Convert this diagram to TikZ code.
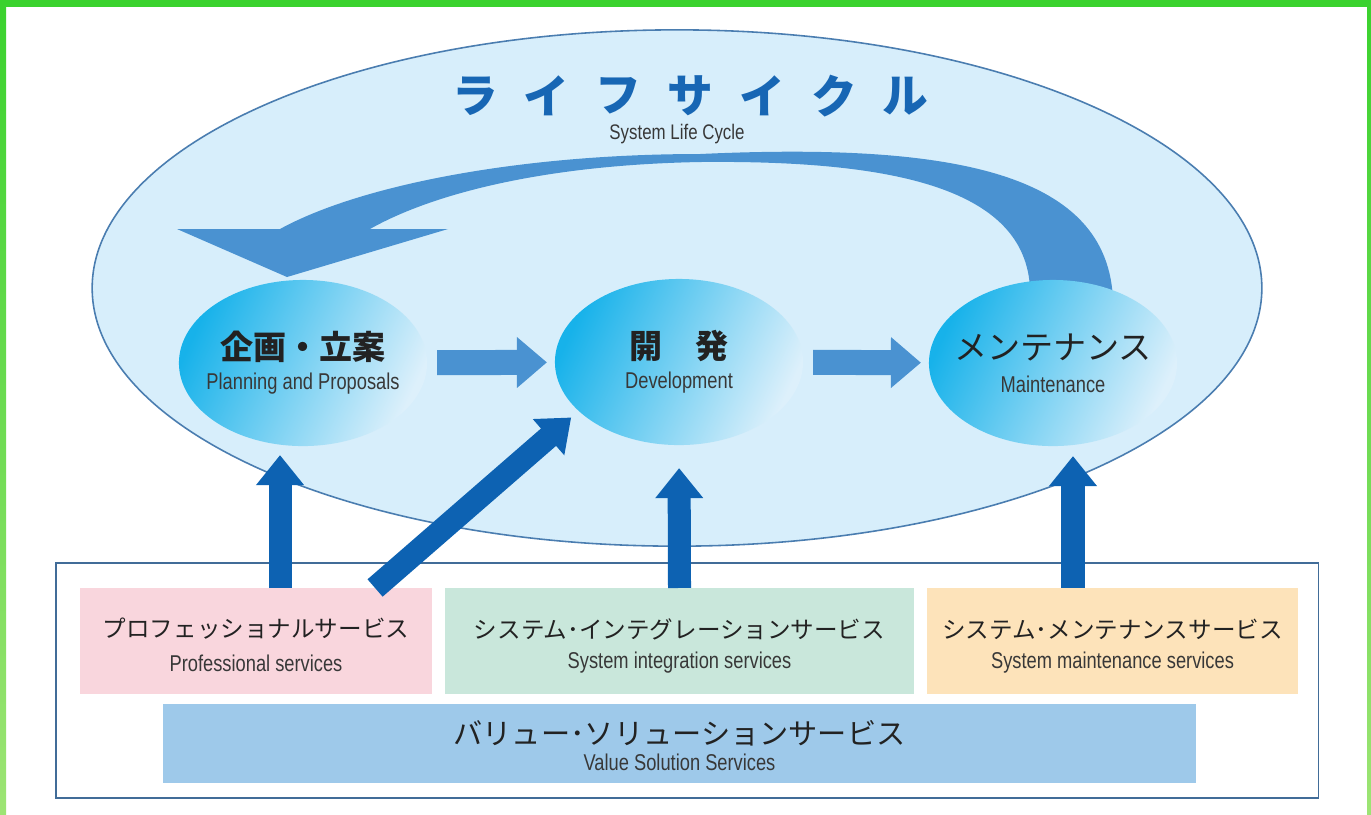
\documentclass[tikz,border=0pt]{standalone}
\usepackage{fontspec}
\setmainfont{Liberation Sans}[FakeStretch=0.8]
\newfontfamily\jpfont{Noto Sans CJK JP}
\usepackage{xcolor}
\usetikzlibrary{shapes,arrows,positioning,calc,arrows.meta}

\definecolor{lifefill}{HTML}{D7EEFB}
\definecolor{lifeline}{HTML}{4A7DB0}
\definecolor{titleblue}{HTML}{1766B4}
\definecolor{cyanstage}{HTML}{17B2EA}
\definecolor{palestage}{HTML}{DDF0FB}
\definecolor{flowblue}{HTML}{4A92D1}
\definecolor{liftblue}{HTML}{0D62B2}
\definecolor{profpink}{HTML}{F9D6DD}
\definecolor{integmint}{HTML}{C9E7DB}
\definecolor{maintpeach}{HTML}{FDE3BA}
\definecolor{valueblue}{HTML}{9EC9EA}
\definecolor{framegreen}{HTML}{3AD22E}
\definecolor{framelight}{HTML}{9DE474}
\definecolor{frameline}{HTML}{416C98}
\definecolor{inktext}{HTML}{222222}

\begin{document}
\begin{tikzpicture}[x=0.01cm, y=-0.01cm, outer sep=0pt,
    stage/.style={ellipse, inner sep=0pt, minimum width=2.48cm, minimum height=1.66cm, left color=cyanstage, right color=palestage, shading angle=65},
    servicebox/.style={rectangle, inner sep=0pt, minimum height=1.06cm},
    titlechar/.style={font=\jpfont\bfseries\fontsize{13}{15}\selectfont, text=titleblue, inner sep=0pt},
    jpstage/.style={font=\jpfont\bfseries\fontsize{9.4}{11}\selectfont, text=inktext, inner sep=0pt},
    jpservice/.style={font=\jpfont\fontsize{6.7}{8}\selectfont, text=inktext, inner sep=0pt},
    enlabel/.style={font=\fontsize{6.5}{8}\selectfont, text=inktext!90, inner sep=0pt},
    flowarrow/.style={draw=flowblue, line width=0.25cm, -{Triangle[length=0.3cm, width=0.49cm]}, shorten <=0.1cm, shorten >=0.08cm},
    liftarrow/.style={draw=liftblue, line width=0.23cm, -{Triangle[length=0.3cm, width=0.46cm]}}]

    % page and green frame
    \useasboundingbox (0,0) rectangle (1371,814);
    \fill[white] (0,0) rectangle (1371,814);
    \fill[framegreen] (0,0) rectangle (1371,7);
    \shade[top color=framegreen, bottom color=framelight] (0,0) rectangle (6,814);
    \shade[top color=framegreen, bottom color=framelight] (1367,0) rectangle (1371,814);

    % life cycle
    \node [draw=lifeline, line width=0.45pt, fill=lifefill, ellipse, inner sep=0pt, minimum width=11.69cm, minimum height=5.16cm] (cycle) at (677,288) {};
    \foreach \ch [count=\i from 0] in {ラ,イ,フ,サ,イ,ク,ル}
        \node [titlechar] (title\i) at (475+71.8*\i,96) {\ch};
    \node [enlabel, font=\fontsize{6}{7}\selectfont] (subtitle) at (677,134) {System Life Cycle};

    % return arrow
    \fill[flowblue] (1113,300) .. controls (1108,175) and (960,142) .. (700,154)
        .. controls (520,154) and (360,185) .. (280,229) -- (177,229) -- (287,277) -- (448,229) -- (370,229)
        .. controls (430,195) and (540,165) .. (700,162)
        .. controls (900,160) and (1035,190) .. (1030,300) -- cycle;

    % stages
    \node [stage] (plan) at (303,363) {};
    \node [stage] (dev) at (679,362) {};
    \node [stage] (maint) at (1053,363) {};
    \node [jpstage] (planjp) at ($(plan)+(0,-16)$) {企画・立案};
    \node [enlabel] (planen) at ($(plan)+(0,21)$) {Planning and Proposals};
    \node [jpstage] (devjp) at ($(dev)+(0,-16)$) {開　発};
    \node [enlabel] (deven) at ($(dev)+(0,21)$) {Development};
    \node [jpstage, font=\jpfont\fontsize{9.4}{11}\selectfont] (maintjp) at ($(maint)+(0,-16)$) {メンテナンス};
    \node [enlabel] (mainten) at ($(maint)+(0,21)$) {Maintenance};

    \draw[flowarrow] (plan) -- (dev);
    \draw[flowarrow] (dev) -- (maint);

    % services
    \node [draw=frameline, line width=0.5pt, rectangle, minimum width=12.62cm, minimum height=2.35cm] (svcframe) at (687,680.5) {};
    \node [servicebox, fill=profpink, minimum width=3.52cm] (prof) at (256,641) {};
    \node [servicebox, fill=integmint, minimum width=4.69cm] (integ) at (679.5,641) {};
    \node [servicebox, fill=maintpeach, minimum width=3.71cm] (sysmaint) at (1112.5,641) {};
    \node [servicebox, fill=valueblue, minimum width=10.33cm, minimum height=0.79cm] (value) at (679.5,743.5) {};

    \node [jpservice] (profjp) at ($(prof)+(0,-12)$) {プロフェッショナルサービス};
    \node [enlabel] (profen) at ($(prof)+(0,22)$) {Professional services};
    \node [jpservice] (integjp) at ($(integ)+(0,-12)$) {システム･インテグレーションサービス};
    \node [enlabel] (integen) at ($(integ)+(0,22)$) {System integration services};
    \node [jpservice] (sysmaintjp) at ($(sysmaint)+(0,-12)$) {システム･メンテナンスサービス};
    \node [enlabel] (sysmainten) at ($(sysmaint)+(0,22)$) {System maintenance services};
    \node [jpservice, font=\jpfont\fontsize{8.3}{10}\selectfont] (valuejp) at ($(value)+(0,-10.5)$) {バリュー･ソリューションサービス};
    \node [enlabel] (valueen) at ($(value)+(0,18.5)$) {Value Solution Services};

    % support arrows
    \coordinate (profup) at ([xshift=0.24cm]prof.north);
    \coordinate (profdiag) at ([xshift=1.19cm]prof.north);
    \coordinate (maintup) at ([xshift=-0.395cm]sysmaint.north);
    \draw[liftarrow, shorten >=0.09cm] (profup) -- (profup |- plan.south);
    \draw[liftarrow, shorten >=0.1cm] (profdiag) -- (dev.206);
    \draw[liftarrow, shorten >=0.23cm] (integ.north) -- (dev.south);
    \draw[liftarrow, shorten >=0.1cm] (maintup) -- (maintup |- maint.south);
\end{tikzpicture}
\end{document}
